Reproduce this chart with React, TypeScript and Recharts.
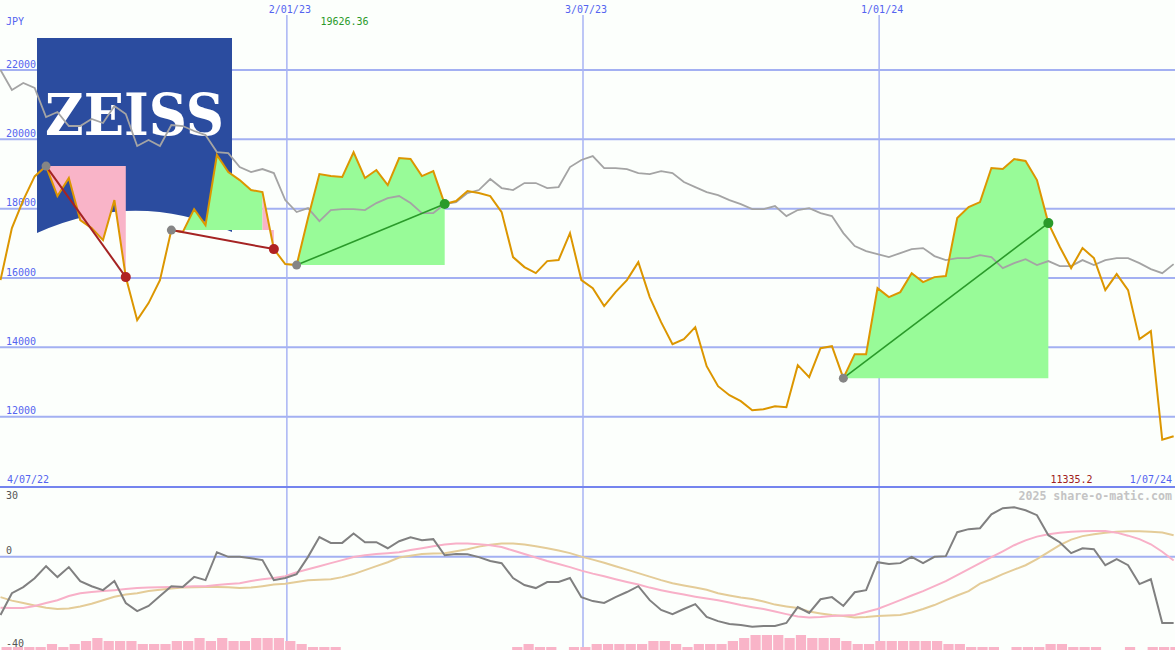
import React from 'react';
import { ComposedChart, Line, Area, Bar, XAxis, YAxis, ReferenceLine } from 'recharts';

// ---------------- data ----------------
const startDate = '10/07/22'; // first weekly point (d/mm/yy)
const rangeLabels = ['4/07/22', '1/07/24'];
const dateTicks = ['2/01/23', '3/07/23', '1/01/24'];
const priceTicks = [12000, 14000, 16000, 18000, 20000, 22000];
const oscTicks = [30, 0, -40];
const currencyLabel = 'JPY';
const highLabel = '19626.36';
const lowLabel = '11335.2';
const creditLabel = '2025 share-o-matic.com';
const logoText = 'ZEISS';

const price = [
  15939, 17440, 18248, 18930, 19229, 18364, 18883, 17671, 17440, 17094,
  18248, 16026, 14785, 15276, 15939, 17382, 17325, 17988, 17527, 19547,
  19056, 18825, 18537, 18479, 16834, 16401, 16372, 17729, 18999, 18941,
  18912, 19626, 18883, 19114, 18681, 19460, 19431, 18941, 19085, 18133,
  18219, 18508, 18450, 18364, 17902, 16603, 16315, 16141, 16488, 16517,
  17296, 15939, 15709, 15189, 15593, 15939, 16459, 15449, 14727, 14092,
  14237, 14583, 13457, 12880, 12620, 12447, 12188, 12217, 12303, 12274,
  13486, 13140, 13977, 14034, 13111, 13804, 13804, 15709, 15449, 15593,
  16141, 15882, 16026, 16055, 17729, 18046, 18190, 19172, 19143, 19431,
  19374, 18825, 17584, 16900, 16286, 16863, 16574, 15651, 16113, 15651,
  14237, 14468, 11335, 11437,
];

const benchmark = [
  22000, 21423, 21625, 21481, 20644, 20788, 20384, 20384, 20586, 20470,
  20961, 20730, 19807, 19980, 19807, 20413, 20384, 20240, 20124, 19633,
  19604, 19201, 19056, 19143, 19027, 18248, 17902, 18017, 17642, 17960,
  17989, 17989, 17960, 18162, 18306, 18364, 18162, 17873, 17873, 18133,
  18190, 18450, 18537, 18854, 18595, 18537, 18739, 18739, 18595, 18623,
  19201, 19403, 19518, 19172, 19172, 19143, 19027, 18999, 19085, 19027,
  18768, 18623, 18479, 18392, 18248, 18133, 17988, 17988, 18075, 17786,
  17960, 18017, 17873, 17786, 17296, 16921, 16776, 16690, 16603, 16719,
  16834, 16863, 16632, 16517, 16574, 16574, 16661, 16603, 16286, 16430,
  16545, 16372, 16488, 16343, 16343, 16517, 16372, 16517, 16574, 16574,
  16430, 16257, 16141, 16401,
];

const momentum = [
  -25, -15.6, -13, -9.2, -4, -8.7, -4.4, -10.4, -12.6, -14.3,
  -10.4, -19.8, -23.3, -21.1, -16.8, -12.6, -12.9, -8.6, -10, 2,
  0, 0, -0.6, -1.4, -10, -9.1, -7.4, 0, 8.5, 6,
  6, 10, 6.3, 6.3, 3.7, 6.7, 8.4, 7.1, 7.6, 0.7,
  1.2, 1.1, -0.1, -1.8, -2.7, -9.1, -12.1, -13.4, -10.8, -10.8,
  -9.1, -17.3, -19, -19.8, -17.3, -15.1, -12.6, -18.6, -22.8, -24.6,
  -22.4, -20.3, -25.8, -27.6, -28.8, -29.3, -30, -29.7, -29.7, -28.4,
  -21.6, -24.1, -18.2, -17.3, -21.1, -15.2, -14.3, -2.3, -3.1, -2.7,
  0, -2.7, 0, 0.3, 10.6, 11.9, 12.3, 18.3, 20.9, 21.3,
  20, 17.9, 9.3, 6.3, 1.6, 3.7, 3.3, -3.6, -1, -3.6,
  -11.7, -9.6, -28.4, -28.4,
];

const maFast = [
  -21.9, -22, -22, -21.1, -19.8, -18.6, -16.8, -15.6, -15.1, -14.7,
  -14.3, -13.8, -13.4, -13.2, -13, -12.9, -12.8, -12.6, -12.6, -12.1,
  -11.7, -11.3, -10.4, -9.6, -9.1, -8.3, -6.6, -5.3, -4, -2.7,
  -1.4, -0.1, 0.7, 1.2, 1.6, 2, 2.9, 3.7, 4.6, 5.3,
  5.7, 5.7, 5.4, 5, 4.2, 2.7, 1.2, -0.3, -1.8, -3.1,
  -4.4, -5.9, -7.2, -8.3, -9.6, -10.8, -11.9, -13.2, -14.3, -15.3,
  -16.2, -17.1, -17.9, -18.6, -19.6, -20.7, -21.6, -22.4, -23.5, -24.6,
  -25.6, -26, -25.8, -25.4, -25.2, -25, -23.7, -22.4, -20.5, -18.6,
  -16.6, -14.7, -12.6, -10.4, -7.8, -5.3, -2.7, -0.1, 2.4, 5,
  7.1, 8.7, 9.7, 10.4, 10.8, 11, 11.1, 11.1, 10.4, 9.1,
  7.6, 5.4, 2.2, -1.6,
];

const maSlow = [
  -17.3, -18.8, -19.8, -20.9, -21.9, -22.4, -22.2, -21.3, -20.1, -18.6,
  -17.1, -16.2, -15.6, -14.7, -14.1, -13.6, -13.2, -13, -12.9, -12.9,
  -13, -13.4, -13.2, -12.6, -11.9, -11.5, -10.8, -10, -9.8, -9.6,
  -8.7, -7.4, -5.7, -4, -2.3, -0.3, 0.5, 1.2, 1.4, 1.6,
  2.4, 3.3, 4.4, 5.2, 5.7, 5.7, 5.3, 4.6, 3.7, 2.7,
  1.6, 0.1, -1.2, -2.5, -4, -5.5, -7, -8.5, -10, -11.3,
  -12.3, -13.2, -14.1, -15.6, -16.6, -17.5, -18.1, -19.2, -20.5, -21.3,
  -22, -23.5, -24.3, -25, -25.4, -26, -25.8, -25.4, -25.2, -25,
  -23.9, -22.4, -20.7, -18.6, -16.6, -14.7, -11.5, -9.6, -7.4, -5.5,
  -3.6, -1, 2, 5, 7.4, 8.9, 9.7, 10.4, 10.8, 11,
  11, 10.8, 10.5, 9.3,
];

const volume = [
  1, 1, 1, 1, 2, 1, 2, 3, 4, 3,
  3, 3, 2, 2, 2, 3, 3, 4, 3, 4,
  3, 3, 4, 4, 4, 3, 2, 1, 1, 1,
  0, 0, 0, 0, 0, 0, 0, 0, 0, 0,
  0, 0, 0, 0, 0, 1, 2, 1, 1, 0,
  1, 1, 2, 2, 2, 2, 2, 3, 3, 2,
  1, 2, 2, 2, 3, 4, 5, 5, 5, 4,
  5, 4, 4, 4, 3, 2, 2, 3, 3, 3,
  3, 3, 3, 2, 2, 1, 1, 1, 0, 1,
  1, 1, 2, 2, 1, 1, 1, 0, 0, 1,
  0, 1, 1, 1,
];

const trades = [
  { entry: 4, exit: 11 },
  { entry: 15, exit: 24 },
  { entry: 26, exit: 39 },
  { entry: 74, exit: 92 },
];

// ---------------- helpers ----------------
const W = 1175;
const MAIN_H = 487;
const LOW_TOP = 486;
const LOW_H = 164;
const FONT = "'DejaVu Sans Mono', monospace";
const BLUE_TXT = '#5464f0';
const DAY = 86400000;
const WEEK = 7 * DAY;

const parseDate = (s: string) => {
  const [d, m, y] = s.split('/').map(Number);
  return Date.UTC(2000 + y, m - 1, d);
};

const t0 = parseDate(startDate);
const X_DOMAIN: [number, number] = [t0 - 0.044 * WEEK, t0 + 103.12 * WEEK];
const BAR_DOMAIN: [number, number] = [X_DOMAIN[0] - 0.5 * WEEK, X_DOMAIN[1] - 0.5 * WEEK];
const PRICE_DOMAIN: [number, number] = [9972, 23586];
const OSC_DOMAIN: [number, number] = [-40, 30];
const VOL_DOMAIN: [number, number] = [0, 163 / 3];

const rows = price.map((p, k) => {
  const r: any = {
    t: t0 + k * WEEK,
    price: p,
    benchmark: benchmark[k],
    momentum: momentum[k],
    maFast: maFast[k],
    maSlow: maSlow[k],
    volume: volume[k],
  };
  trades.forEach((tr, i) => {
    const e = price[tr.entry];
    const segGain = (s: number) => price[s + 1] >= e;
    let g = false;
    let l = false;
    if (k >= tr.entry && k <= tr.exit) {
      if (k > tr.entry) { if (segGain(k - 1)) g = true; else l = true; }
      if (k < tr.exit) { if (segGain(k)) g = true; else l = true; }
    }
    r[`gain${i}`] = g ? [e, p] : null;
    r[`loss${i}`] = l ? [e, p] : null;
    r[`trade${i}`] = k === tr.entry || k === tr.exit ? p : null;
  });
  return r;
});

const txt = (x: number, y: number, s: string | number, fill: string, anchor = 'start', extra: any = {}) => (
  <text x={x} y={y} textAnchor={anchor} fontFamily={FONT} fontSize={10} fill={fill} {...extra}>{s}</text>
);

// label renderers for reference lines (positions come from the line's viewBox)
const priceLabel = (v: number) => (p: any) => txt(6, p.viewBox.y - 2.3, v, BLUE_TXT);
const dateLabel = (s: string) => (p: any) => txt(p.viewBox.x + 3, 12.6, s, BLUE_TXT, 'middle');
const rangeLabel = (i: number) => (p: any) =>
  txt(i === 0 ? p.viewBox.x + 7 : p.viewBox.x - 3, 482.6, rangeLabels[i], BLUE_TXT, i === 0 ? 'start' : 'end');
const oscLabel = (v: number) => (p: any) =>
  txt(6, v === OSC_DOMAIN[1] ? p.viewBox.y + 12.3 : p.viewBox.y - 3, v, '#555555');

const makeDot = (tr: { entry: number; exit: number }, win: boolean) => (props: any) => {
  const { cx, cy, index } = props;
  if (cx == null || cy == null || (index !== tr.entry && index !== tr.exit)) {
    return <g key={`d${index}`} />;
  }
  const isEntry = index === tr.entry;
  const fill = isEntry ? '#858585' : win ? '#2a9a2a' : '#b02222';
  return <circle key={`d${index}`} cx={cx} cy={cy} r={isEntry ? 4.5 : 5} fill={fill} />;
};

const layer = (top: number): React.CSSProperties => ({ position: 'absolute', left: 0, top, pointerEvents: 'none' });

export default function App() {
  return (
    <div style={{ position: 'fixed', left: 0, top: 0, width: W, height: 650, background: '#fcfffc', overflow: 'hidden' }}>
      {/* main panel: grid and axis labels */}
      <div style={layer(0)}>
        <ComposedChart width={W} height={MAIN_H} data={rows} margin={{ top: 15, right: 0, bottom: 0, left: 0 }}>
          <XAxis dataKey="t" type="number" domain={X_DOMAIN} hide />
          <YAxis type="number" domain={PRICE_DOMAIN} hide />
          {priceTicks.map((v) => (
            <ReferenceLine key={v} y={v} stroke="#a3b0f2" strokeWidth={2} label={priceLabel(v)} />
          ))}
          {dateTicks.map((d) => (
            <ReferenceLine key={d} x={parseDate(d)} stroke="#a8b4f4" strokeWidth={1.5} label={dateLabel(d)} />
          ))}
          {X_DOMAIN.map((x, i) => (
            <ReferenceLine key={`r${i}`} x={x} stroke="none" ifOverflow="visible" label={rangeLabel(i)} />
          ))}
          <Line dataKey="price" stroke="none" dot={false} activeDot={false} isAnimationActive={false} />
        </ComposedChart>
      </div>

      {/* logo */}
      <svg width={W} height={MAIN_H} style={layer(0)}>
        <path d="M37,38 H232 V232 Q134.5,189 37,233 Z" fill="#2b4c9f" />
        <text x={45} y={135} fontFamily="'DejaVu Serif', 'Liberation Serif', serif" fontWeight="bold" fontSize={58}
          fill="#ffffff" textLength={179} lengthAdjust="spacingAndGlyphs">{logoText}</text>
      </svg>

      {/* main panel: data */}
      <div style={layer(0)}>
        <ComposedChart width={W} height={MAIN_H} data={rows} margin={{ top: 15, right: 0, bottom: 0, left: 0 }}>
          <XAxis dataKey="t" type="number" domain={X_DOMAIN} hide />
          <YAxis type="number" domain={PRICE_DOMAIN} hide />
          {trades.map((tr, i) => (
            <Area key={`g${i}`} type="linear" dataKey={`gain${i}`} fill="#98fb98" fillOpacity={1} stroke="none"
              dot={false} activeDot={false} isAnimationActive={false} />
          ))}
          {trades.map((tr, i) => (
            <Area key={`l${i}`} type="linear" dataKey={`loss${i}`} fill="#f9b4c8" fillOpacity={1} stroke="none"
              dot={false} activeDot={false} isAnimationActive={false} />
          ))}
          <Line type="linear" dataKey="benchmark" stroke="#a4a4a4" strokeWidth={1.8} dot={false} activeDot={false} isAnimationActive={false} />
          <Line type="linear" dataKey="price" stroke="#dc9600" strokeWidth={2} dot={false} activeDot={false} isAnimationActive={false} />
          {trades.map((tr, i) => {
            const win = price[tr.exit] > price[tr.entry];
            return (
              <Line key={`t${i}`} type="linear" dataKey={`trade${i}`} connectNulls
                stroke={win ? '#2a9a2a' : '#a52323'} strokeWidth={win ? 1.6 : 2}
                dot={makeDot(tr, win)} activeDot={false} isAnimationActive={false} />
            );
          })}
        </ComposedChart>
      </div>

      {/* lower panel: grid and labels */}
      <div style={layer(LOW_TOP)}>
        <ComposedChart width={W} height={LOW_H} data={rows} margin={{ top: 1, right: 0, bottom: 0, left: 0 }}>
          <XAxis dataKey="t" type="number" domain={X_DOMAIN} hide />
          <YAxis type="number" domain={OSC_DOMAIN} hide />
          {dateTicks.map((d) => (
            <ReferenceLine key={d} x={parseDate(d)} stroke="#a8b4f4" strokeWidth={1.5} />
          ))}
          {oscTicks.map((v) => (
            <ReferenceLine key={v} y={v}
              stroke={v === OSC_DOMAIN[1] ? '#7484ee' : v === 0 ? '#a3b0f2' : 'none'}
              strokeWidth={2} ifOverflow="visible" label={oscLabel(v)} />
          ))}
          <Line dataKey="momentum" stroke="none" dot={false} activeDot={false} isAnimationActive={false} />
        </ComposedChart>
      </div>

      {/* lower panel: data */}
      <div style={layer(LOW_TOP)}>
        <ComposedChart width={W} height={LOW_H} data={rows} margin={{ top: 1, right: 0, bottom: 0, left: 0 }}>
          <XAxis dataKey="t" type="number" domain={X_DOMAIN} hide />
          <XAxis xAxisId="bar" dataKey="t" type="number" domain={BAR_DOMAIN} hide />
          <YAxis type="number" domain={OSC_DOMAIN} hide />
          <YAxis yAxisId="vol" type="number" domain={VOL_DOMAIN} hide />
          <Bar xAxisId="bar" yAxisId="vol" dataKey="volume" fill="#f9b4c8" barSize={11.39} isAnimationActive={false} />
          <Line type="linear" dataKey="maSlow" stroke="#e4cc98" strokeWidth={2} dot={false} activeDot={false} isAnimationActive={false} />
          <Line type="linear" dataKey="maFast" stroke="#f8b0c8" strokeWidth={2} dot={false} activeDot={false} isAnimationActive={false} />
          <Line type="linear" dataKey="momentum" stroke="#808080" strokeWidth={2} dot={false} activeDot={false} isAnimationActive={false} />
        </ComposedChart>
      </div>

      {/* labels */}
      <svg width={W} height={650} style={layer(0)}>
        {txt(6, 24.6, currencyLabel, BLUE_TXT)}
        {txt(344.5, 24.6, highLabel, '#2a9a2a', 'middle')}
        {txt(1071.5, 482.6, lowLabel, '#a02020', 'middle')}
        <text x={1172} y={500} textAnchor="end" fontFamily={FONT} fontSize={11.6} fontWeight="bold" fill="#c4c4c4">{creditLabel}</text>
      </svg>
    </div>
  );
}
